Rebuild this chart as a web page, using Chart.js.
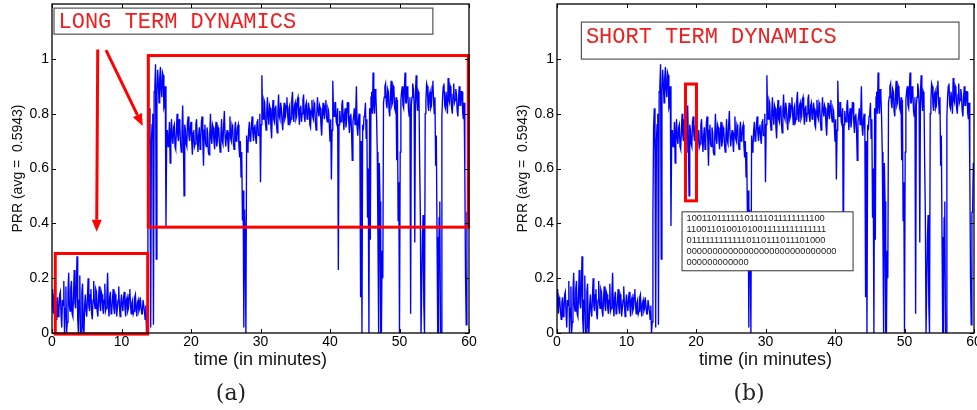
<!DOCTYPE html>
<html>
<head>
<meta charset="utf-8">
<script src="https://cdn.jsdelivr.net/npm/chart.js@4.4.0/dist/chart.umd.min.js"></script>
<style>
  html, body { margin: 0; padding: 0; background: #fff; }
  body { width: 977px; height: 410px; position: relative; overflow: hidden; }
  .panel { position: absolute; top: 0; width: 490px; height: 410px; }
  #panelA { left: 0; }
  #panelB { left: 505px; }
  .caption {
    position: absolute; top: 382px; width: 60px; height: 24px; line-height: 22px;
    text-align: center; font-family: "DejaVu Serif", serif; font-size: 22px; color: #222;
  }
</style>
</head>
<body>
<div class="panel" id="panelA"><canvas id="chartA" width="490" height="410"></canvas></div>
<div class="panel" id="panelB"><canvas id="chartB" width="490" height="410"></canvas></div>
<div class="caption" style="left:201px">(a)</div>
<div class="caption" style="left:719px">(b)</div>
<script>
// PRR samples, one every 0.1 minutes
const timeStep = 0.1;
const prr00to05 = [0.16, 0.10, 0.07, 0.13, 0.12, 0.08, 0.05, 0.11, 0.13, 0.06, 0.08, 0.14, 0.15, 0.07, 0.02, 0.12, 0.10, 0.19, 0.00, 0.09,
                   0.17, 0.00, 0.04, 0.15, 0.22, 0.10, 0.08, 0.16, 0.19, 0.07, 0.06, 0.14, 0.23, 0.11, 0.09, 0.17, 0.28, 0.05, 0.00, 0.12,
                   0.21, 0.00, 0.00, 0.15, 0.18, 0.02, 0.00, 0.10, 0.14, 0.08];
const prr05to10 = [0.06, 0.13, 0.20, 0.10, 0.08, 0.14, 0.16, 0.07, 0.05, 0.12, 0.19, 0.11, 0.09, 0.16, 0.15, 0.08, 0.06, 0.13, 0.17, 0.10,
                   0.08, 0.15, 0.14, 0.09, 0.07, 0.12, 0.18, 0.08, 0.09, 0.14, 0.22, 0.10, 0.06, 0.13, 0.15, 0.07, 0.08, 0.12, 0.16, 0.09,
                   0.07, 0.14, 0.13, 0.06, 0.09, 0.12, 0.17, 0.10, 0.06, 0.11];
const prr10to15 = [0.14, 0.10, 0.08, 0.13, 0.15, 0.09, 0.06, 0.12, 0.13, 0.08, 0.09, 0.14, 0.16, 0.10, 0.07, 0.11, 0.12, 0.07, 0.08, 0.13,
                   0.14, 0.09, 0.06, 0.11, 0.12, 0.08, 0.09, 0.13, 0.13, 0.07, 0.07, 0.12, 0.12, 0.08, 0.05, 0.10, 0.00, 0.04, 0.43, 0.75,
                   0.82, 0.66, 0.02, 0.70, 0.76, 0.80, 0.03, 0.88, 0.90, 0.98];
const prr15to20 = [0.27, 0.88, 0.96, 0.91, 0.84, 0.93, 0.97, 0.89, 0.86, 0.95, 0.94, 0.82, 0.83, 0.90, 0.39, 0.72, 0.74, 0.68, 0.70, 0.77,
                   0.62, 0.73, 0.78, 0.71, 0.69, 0.75, 0.76, 0.68, 0.67, 0.74, 0.80, 0.72, 0.70, 0.78, 0.75, 0.69, 0.66, 0.73, 0.83, 0.71,
                   0.50, 0.76, 0.74, 0.69, 0.68, 0.77, 0.79, 0.72, 0.70, 0.75];
const prr20to25 = [0.77, 0.70, 0.65, 0.73, 0.74, 0.68, 0.69, 0.76, 0.78, 0.71, 0.66, 0.72, 0.75, 0.67, 0.70, 0.77, 0.79, 0.70, 0.61, 0.74,
                   0.76, 0.69, 0.68, 0.75, 0.73, 0.66, 0.65, 0.72, 0.80, 0.71, 0.69, 0.76, 0.75, 0.70, 0.67, 0.73, 0.77, 0.68, 0.70, 0.75,
                   0.74, 0.69, 0.66, 0.72, 0.78, 0.70, 0.69, 0.76, 0.81, 0.72];
const prr25to30 = [0.68, 0.72, 0.74, 0.70, 0.66, 0.73, 0.79, 0.71, 0.70, 0.76, 0.75, 0.69, 0.67, 0.74, 0.77, 0.70, 0.71, 0.75, 0.76, 0.68,
                   0.64, 0.70, 0.57, 0.66, 0.41, 0.52, 0.02, 0.45, 0.33, 0.00, 0.72, 0.66, 0.68, 0.74, 0.77, 0.70, 0.71, 0.76, 0.79, 0.73,
                   0.70, 0.75, 0.76, 0.71, 0.69, 0.77, 0.78, 0.72, 0.72, 0.80];
const prr30to35 = [0.55, 0.76, 0.94, 0.80, 0.78, 0.85, 0.84, 0.77, 0.74, 0.81, 0.86, 0.79, 0.76, 0.83, 0.82, 0.75, 0.71, 0.80, 0.85, 0.78,
                   0.77, 0.82, 0.83, 0.76, 0.73, 0.81, 0.87, 0.79, 0.78, 0.84, 0.82, 0.77, 0.74, 0.80, 0.84, 0.78, 0.79, 0.83, 0.86, 0.80,
                   0.76, 0.82, 0.83, 0.77, 0.78, 0.85, 0.88, 0.80, 0.77, 0.83];
const prr35to40 = [0.84, 0.78, 0.79, 0.85, 0.86, 0.80, 0.76, 0.82, 0.83, 0.77, 0.80, 0.85, 0.87, 0.79, 0.77, 0.83, 0.84, 0.78, 0.79, 0.84,
                   0.82, 0.76, 0.75, 0.81, 0.85, 0.79, 0.78, 0.84, 0.83, 0.77, 0.74, 0.80, 0.86, 0.81, 0.79, 0.83, 0.82, 0.76, 0.72, 0.79,
                   0.84, 0.80, 0.78, 0.83, 0.85, 0.79, 0.77, 0.82, 0.81, 0.76];
const prr40to45 = [0.70, 0.78, 0.56, 0.74, 0.92, 0.81, 0.79, 0.84, 0.84, 0.77, 0.76, 0.82, 0.23, 0.76, 0.81, 0.78, 0.77, 0.83, 0.85, 0.79,
                   0.74, 0.80, 0.82, 0.75, 0.78, 0.84, 0.84, 0.77, 0.73, 0.79, 0.80, 0.74, 0.63, 0.77, 0.79, 0.82, 0.76, 0.80, 0.90, 0.75,
                   0.72, 0.78, 0.80, 0.73, 0.13, 0.70, 0.00, 0.76, 0.74, 0.79];
const prr45to50 = [0.80, 0.84, 0.71, 0.78, 0.42, 0.60, 0.00, 0.82, 0.34, 0.86, 0.88, 0.80, 0.95, 0.83, 0.80, 0.89, 0.87, 0.79, 0.66, 0.35,
                   0.00, 0.62, 0.48, 0.00, 0.00, 0.30, 0.20, 0.84, 0.86, 0.90, 0.91, 0.84, 0.82, 0.89, 0.88, 0.81, 0.79, 0.87, 0.92, 0.83,
                   0.84, 0.90, 0.89, 0.82, 0.81, 0.86, 0.63, 0.85, 0.41, 0.55];
const prr50to55 = [0.00, 0.66, 0.85, 0.88, 0.90, 0.83, 0.82, 0.89, 0.95, 0.84, 0.84, 0.90, 0.88, 0.81, 0.79, 0.86, 0.07, 0.83, 0.86, 0.91,
                   0.89, 0.84, 0.33, 0.88, 0.94, 0.85, 0.81, 0.88, 0.87, 0.62, 0.43, 0.00, 0.00, 0.35, 0.43, 0.10, 0.00, 0.80, 0.85, 0.91,
                   0.90, 0.83, 0.81, 0.87, 0.88, 0.82, 0.83, 0.90, 0.92, 0.85];
const prr55to60 = [0.80, 0.86, 0.61, 0.72, 0.35, 0.00, 0.00, 0.42, 0.48, 0.00, 0.00, 0.79, 0.86, 0.90, 0.91, 0.83, 0.82, 0.88, 0.88, 0.80,
                   0.93, 0.85, 0.84, 0.90, 0.89, 0.82, 0.80, 0.87, 0.91, 0.84, 0.85, 0.89, 0.87, 0.81, 0.79, 0.86, 0.90, 0.83, 0.83, 0.88,
                   0.88, 0.80, 0.78, 0.84, 0.58, 0.20, 0.03, 0.44, 0.44, 0.62, 0.57];

const prrValues = [].concat(prr00to05, prr05to10, prr10to15, prr15to20, prr20to25, prr25to30,
  prr30to35, prr35to40, prr40to45, prr45to50, prr50to55, prr55to60);
const timeMinutes = prrValues.map((_, i) => +(i * timeStep).toFixed(1));

const xTicks = [0, 10, 20, 30, 40, 50, 60];
const yTicks = [0, 0.2, 0.4, 0.6, 0.8, 1];

// annotations, in data units
const longTermLabel = { x0: 0.29, x1: 54.8, y0: 1.185, y1: 1.09, text: 'LONG TERM DYNAMICS', dy: 0 };
const longTermBoxes = [
  { x0: 0.47, x1: 13.77, y0: 0.29, y1: -0.004 },
  { x0: 13.86, x1: 59.9, y0: 1.012, y1: 0.386 }
];
const longTermArrows = [
  { x0: 6.58, y0: 1.034, x1: 6.43, y1: 0.369 },
  { x0: 7.77, y0: 1.032, x1: 13.05, y1: 0.755 }
];
const shortTermLabel = { x0: 3.51, x1: 57.84, y0: 1.134, y1: 0.999, text: 'SHORT TERM DYNAMICS', dy: -4.5 };
const shortTermBoxes = [ { x0: 18.49, x1: 20.07, y0: 0.908, y1: 0.482 } ];
const bitPattern = [
  '10011011111101111011111111100',
  '11001101001010011111111111111',
  '01111111111110110111011101000',
  '00000000000000000000000000000',
  '000000000000'
];
const bitBox = { x0: 17.99, x1: 42.6, y0: 0.442, y1: 0.227 };

const sans = "'Liberation Sans', Arial, sans-serif";
const red = '#ff0000';

function drawLabel(ctx, xs, ys, lab) {
  const l = xs.getPixelForValue(lab.x0), r = xs.getPixelForValue(lab.x1);
  const t = ys.getPixelForValue(lab.y0), b = ys.getPixelForValue(lab.y1);
  ctx.fillStyle = '#fff';
  ctx.fillRect(l, t, r - l, b - t);
  ctx.strokeStyle = '#555';
  ctx.lineWidth = 1.2;
  ctx.strokeRect(l, t, r - l, b - t);
  ctx.fillStyle = '#f01e1e';
  ctx.font = "22px 'Liberation Mono', 'Courier New', monospace";
  ctx.textAlign = 'left';
  ctx.textBaseline = 'middle';
  ctx.fillText(lab.text, l + 4.5, (t + b) / 2 + lab.dy + 1);
}

function drawBoxes(ctx, xs, ys, boxes) {
  ctx.strokeStyle = red;
  ctx.lineWidth = 3;
  boxes.forEach(bx => {
    const l = xs.getPixelForValue(bx.x0), r = xs.getPixelForValue(bx.x1);
    const t = ys.getPixelForValue(bx.y0), b = ys.getPixelForValue(bx.y1);
    ctx.strokeRect(l, t, r - l, b - t);
  });
}

function drawArrows(ctx, xs, ys, arrows) {
  arrows.forEach(a => {
    const x0 = xs.getPixelForValue(a.x0), y0 = ys.getPixelForValue(a.y0);
    const x1 = xs.getPixelForValue(a.x1), y1 = ys.getPixelForValue(a.y1);
    const ang = Math.atan2(y1 - y0, x1 - x0);
    const head = 12, half = 5;
    const bx = x1 - head * Math.cos(ang), by = y1 - head * Math.sin(ang);
    ctx.strokeStyle = red;
    ctx.lineWidth = 3;
    ctx.beginPath();
    ctx.moveTo(x0, y0);
    ctx.lineTo(bx, by);
    ctx.stroke();
    ctx.fillStyle = red;
    ctx.beginPath();
    ctx.moveTo(x1, y1);
    ctx.lineTo(bx + half * Math.sin(ang), by - half * Math.cos(ang));
    ctx.lineTo(bx - half * Math.sin(ang), by + half * Math.cos(ang));
    ctx.closePath();
    ctx.fill();
  });
}

function drawBitBox(ctx, xs, ys) {
  const l = xs.getPixelForValue(bitBox.x0), r = xs.getPixelForValue(bitBox.x1);
  const t = ys.getPixelForValue(bitBox.y0), b = ys.getPixelForValue(bitBox.y1);
  ctx.fillStyle = '#fff';
  ctx.fillRect(l, t, r - l, b - t);
  ctx.strokeStyle = '#333';
  ctx.lineWidth = 1;
  ctx.strokeRect(l, t, r - l, b - t);
  ctx.fillStyle = '#222';
  ctx.font = '9.3px ' + sans;
  ctx.textAlign = 'left';
  ctx.textBaseline = 'middle';
  bitPattern.forEach((line, i) => ctx.fillText(line, l + 4.5, t + 6.8 + i * 11));
}

// MATLAB style frame with inward ticks on all four sides
function drawFrame(chart) {
  const ctx = chart.ctx, a = chart.chartArea;
  const xs = chart.scales.x, ys = chart.scales.y;
  const tl = 4;
  ctx.save();
  ctx.strokeStyle = '#000';
  ctx.lineWidth = 1;
  ctx.beginPath();
  xTicks.forEach(v => {
    const p = Math.round(xs.getPixelForValue(v)) + 0.5;
    ctx.moveTo(p, a.bottom); ctx.lineTo(p, a.bottom - tl);
    ctx.moveTo(p, a.top); ctx.lineTo(p, a.top + tl);
  });
  yTicks.forEach(v => {
    const p = Math.round(ys.getPixelForValue(v)) + 0.5;
    ctx.moveTo(a.left, p); ctx.lineTo(a.left + tl, p);
    ctx.moveTo(a.right, p); ctx.lineTo(a.right - tl, p);
  });
  ctx.stroke();
  ctx.lineWidth = 1.3;
  ctx.strokeRect(a.left, a.top, a.right - a.left, a.bottom - a.top);
  ctx.restore();
}

function makePanel(canvasId, decorate) {
  return new Chart(document.getElementById(canvasId), {
    type: 'line',
    data: {
      datasets: [{
        data: timeMinutes.map((t, i) => ({ x: t, y: prrValues[i] })),
        borderColor: '#0000ff',
        borderWidth: 1.35,
        pointRadius: 0,
        tension: 0,
        fill: false
      }]
    },
    options: {
      responsive: false,
      animation: false,
      devicePixelRatio: 1,
      layout: { padding: { left: 0, top: 4, right: 21, bottom: 0 } },
      plugins: { legend: { display: false }, tooltip: { enabled: false } },
      scales: {
        x: {
          type: 'linear', min: 0, max: 60,
          afterBuildTicks: s => { s.ticks = xTicks.map(v => ({ value: v })); },
          afterFit: s => { s.height = 77; s.paddingLeft = 0; s.paddingRight = 0; },
          grid: { display: false, drawTicks: false },
          border: { display: false },
          ticks: { padding: 2, color: '#000', maxRotation: 0, autoSkip: false,
                   font: { family: sans, size: 14, lineHeight: 1 } },
          title: { display: true, text: 'time (in minutes)', color: '#111',
                   font: { family: sans, size: 18, lineHeight: 1 }, padding: { top: 0, bottom: 41 } }
        },
        y: {
          type: 'linear', min: 0, max: 1.2,
          afterBuildTicks: s => { s.ticks = yTicks.map(v => ({ value: v })); },
          afterFit: s => { s.width = 52; s.paddingTop = 0; s.paddingBottom = 0; },
          grid: { display: false, drawTicks: false },
          border: { display: false },
          ticks: { padding: 3, color: '#000', font: { family: sans, size: 14, lineHeight: 1 },
                   callback: v => String(v) },
          title: { display: true, text: 'PRR (avg =  0.5943)', color: '#111',
                   font: { family: sans, size: 14, lineHeight: 1 }, padding: { top: 11, bottom: 0 } }
        }
      }
    },
    plugins: [{
      id: 'decor',
      afterDatasetsDraw(chart) {
        const ctx = chart.ctx;
        ctx.save();
        decorate(ctx, chart.scales.x, chart.scales.y);
        ctx.restore();
        drawFrame(chart);
      }
    }]
  });
}

makePanel('chartA', (ctx, xs, ys) => {
  drawLabel(ctx, xs, ys, longTermLabel);
  drawBoxes(ctx, xs, ys, longTermBoxes);
  drawArrows(ctx, xs, ys, longTermArrows);
});

makePanel('chartB', (ctx, xs, ys) => {
  drawLabel(ctx, xs, ys, shortTermLabel);
  drawBoxes(ctx, xs, ys, shortTermBoxes);
  drawBitBox(ctx, xs, ys);
});
</script>
</body>
</html>
